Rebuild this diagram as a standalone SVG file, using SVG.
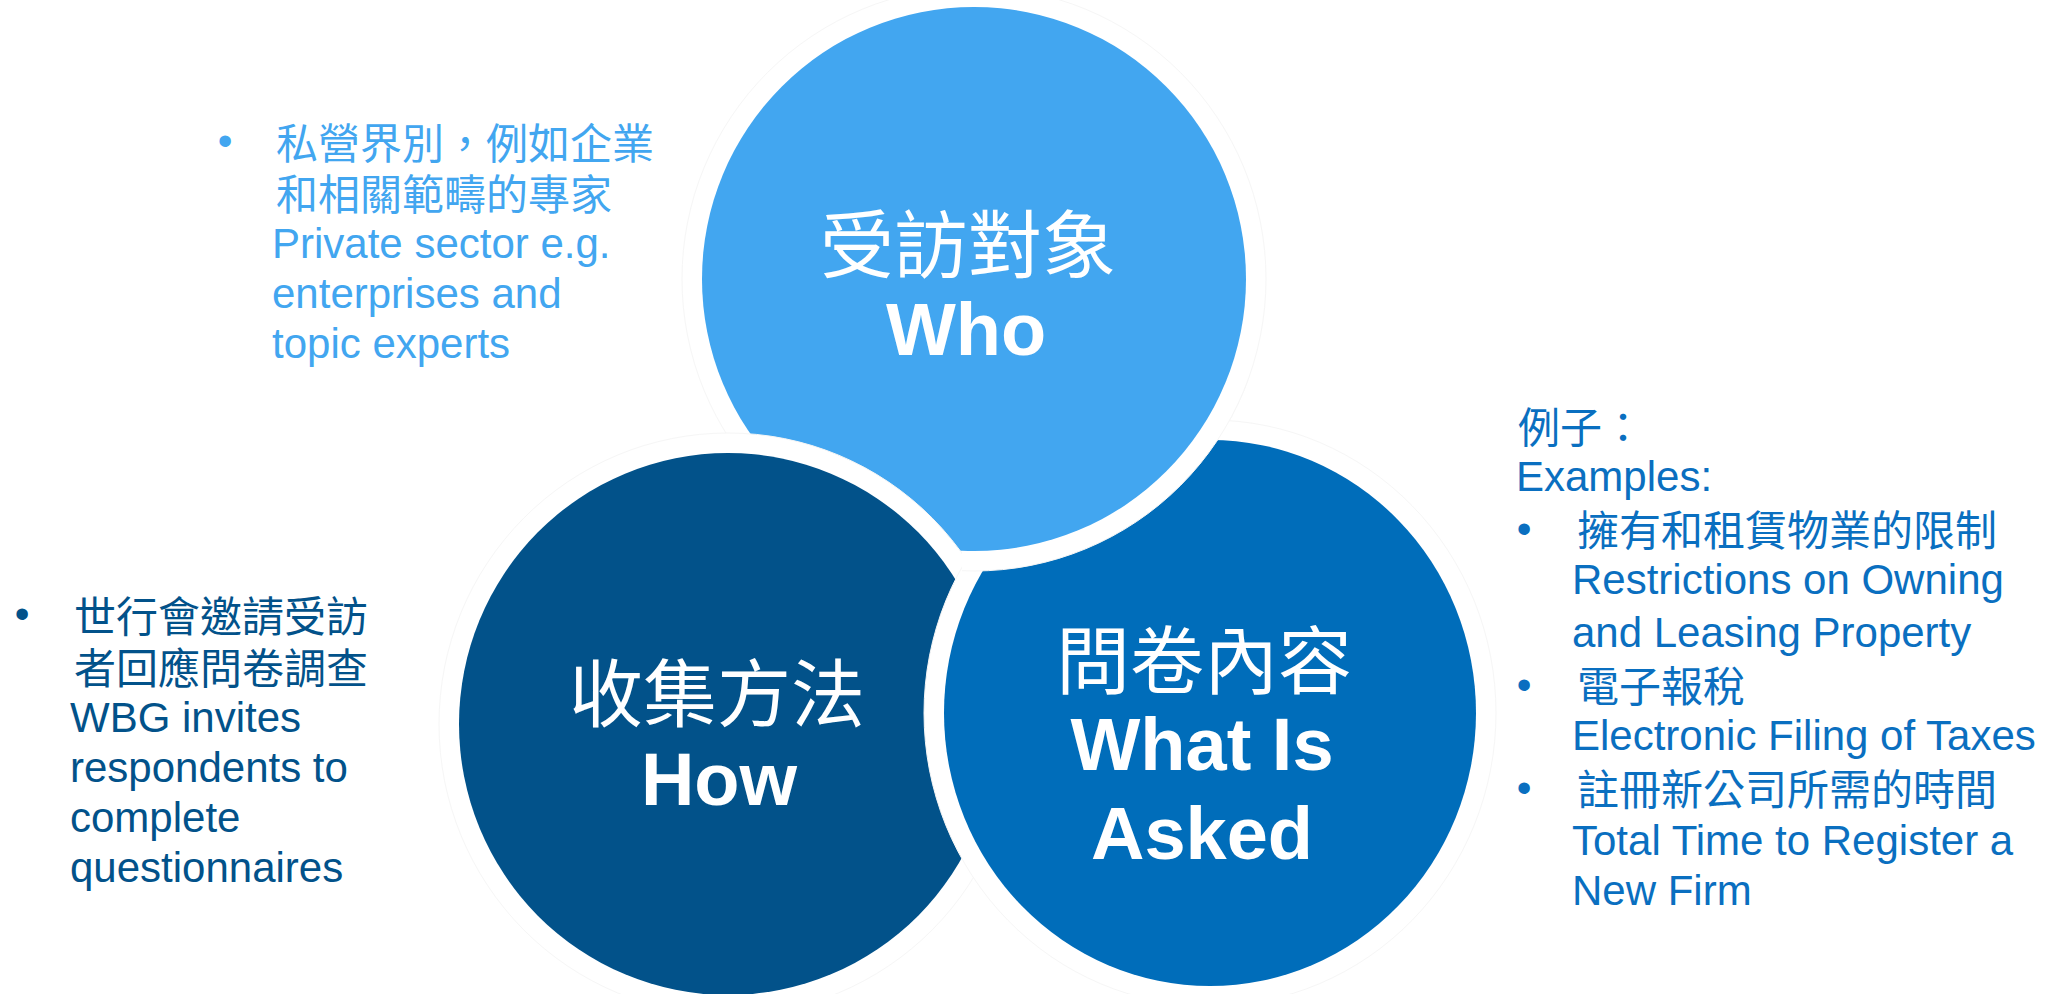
<svg xmlns="http://www.w3.org/2000/svg" xmlns:xlink="http://www.w3.org/1999/xlink" width="2048" height="994" viewBox="0 0 2048 994">
<style>
.halo{fill:#ffffff;stroke:#f6f6f6;stroke-width:1}
.light{fill:#42A6F0}
.dark{fill:#02528A}
.mid{fill:#006DBA}
.lbl-cjk{font-family:"Noto Sans CJK TC","Noto Sans CJK SC",sans-serif;font-size:74px;fill:#ffffff;text-anchor:middle}
.lbl-en{font-family:"Liberation Sans",Arial,sans-serif;font-weight:bold;font-size:74px;fill:#ffffff;text-anchor:middle}
.cjk{font-family:"Noto Sans CJK TC","Noto Sans CJK SC",sans-serif;font-size:42px}
.en{font-family:"Liberation Sans",Arial,sans-serif;font-size:42px}
.bullet{font-family:"Liberation Sans",Arial,sans-serif;font-size:42px;text-anchor:middle}
.c-light{fill:#42A6F0}
.c-dark{fill:#02528A}
.c-mid{fill:#0A6FC0}
</style>
<defs>
<circle id="lightHalo" cx="974" cy="279" r="292"/>
<circle id="lightFill" cx="974" cy="279" r="272"/>
<clipPath id="clipFront"><rect x="962" y="380" width="360" height="220"/></clipPath>
</defs>
<rect x="0" y="0" width="2048" height="994" fill="#ffffff"/>

<g id="node-who">
<use xlink:href="#lightHalo" class="halo"/>
<use xlink:href="#lightFill" class="light"/>
<text class="lbl-cjk" x="968" y="272">受訪對象</text>
<text class="lbl-en" x="966" y="355">Who</text>
</g>

<g id="node-how">
<ellipse class="halo" cx="728" cy="724" rx="289" ry="291"/>
<ellipse class="dark" cx="728" cy="724" rx="269" ry="271"/>
<text class="lbl-cjk" x="717" y="721">收集方法</text>
<text class="lbl-en" x="719" y="805">How</text>
</g>

<g id="node-what">
<ellipse class="halo" cx="1210" cy="713" rx="286" ry="293"/>
<ellipse class="mid" cx="1210" cy="713" rx="266" ry="273"/>
<text class="lbl-cjk" x="1204" y="688">問卷內容</text>
<text class="lbl-en" x="1202" y="770">What Is</text>
<text class="lbl-en" x="1202" y="859">Asked</text>
</g>

<g id="node-who-front" clip-path="url(#clipFront)">
<use xlink:href="#lightHalo" class="halo"/>
<use xlink:href="#lightFill" class="light"/>
</g>

<g id="connectors"></g>

<g id="note-who">
<text class="bullet c-light" x="225" y="155">•</text>
<text class="cjk c-light" x="276" y="159">私營界別，例如企業</text>
<text class="cjk c-light" x="276" y="210">和相關範疇的專家</text>
<text class="en c-light" x="272" y="258">Private sector e.g.</text>
<text class="en c-light" x="272" y="308">enterprises and</text>
<text class="en c-light" x="272" y="358">topic experts</text>
</g>

<g id="note-how">
<text class="bullet c-dark" x="22" y="628">•</text>
<text class="cjk c-dark" x="74" y="632">世行會邀請受訪</text>
<text class="cjk c-dark" x="74" y="684">者回應問卷調查</text>
<text class="en c-dark" x="70" y="732">WBG invites</text>
<text class="en c-dark" x="70" y="782">respondents to</text>
<text class="en c-dark" x="70" y="832">complete</text>
<text class="en c-dark" x="70" y="882">questionnaires</text>
</g>

<g id="note-what">
<text class="cjk c-mid" x="1518" y="443">例子：</text>
<text class="en c-mid" x="1516" y="491">Examples:</text>
<text class="bullet c-mid" x="1524" y="543">•</text>
<text class="cjk c-mid" x="1577" y="546">擁有和租賃物業的限制</text>
<text class="en c-mid" x="1572" y="594">Restrictions on Owning</text>
<text class="en c-mid" x="1572" y="647">and Leasing Property</text>
<text class="bullet c-mid" x="1524" y="699">•</text>
<text class="cjk c-mid" x="1577" y="702">電子報稅</text>
<text class="en c-mid" x="1572" y="750">Electronic Filing of Taxes</text>
<text class="bullet c-mid" x="1524" y="802">•</text>
<text class="cjk c-mid" x="1577" y="805">註冊新公司所需的時間</text>
<text class="en c-mid" x="1572" y="855">Total Time to Register a</text>
<text class="en c-mid" x="1572" y="905">New Firm</text>
</g>
</svg>
